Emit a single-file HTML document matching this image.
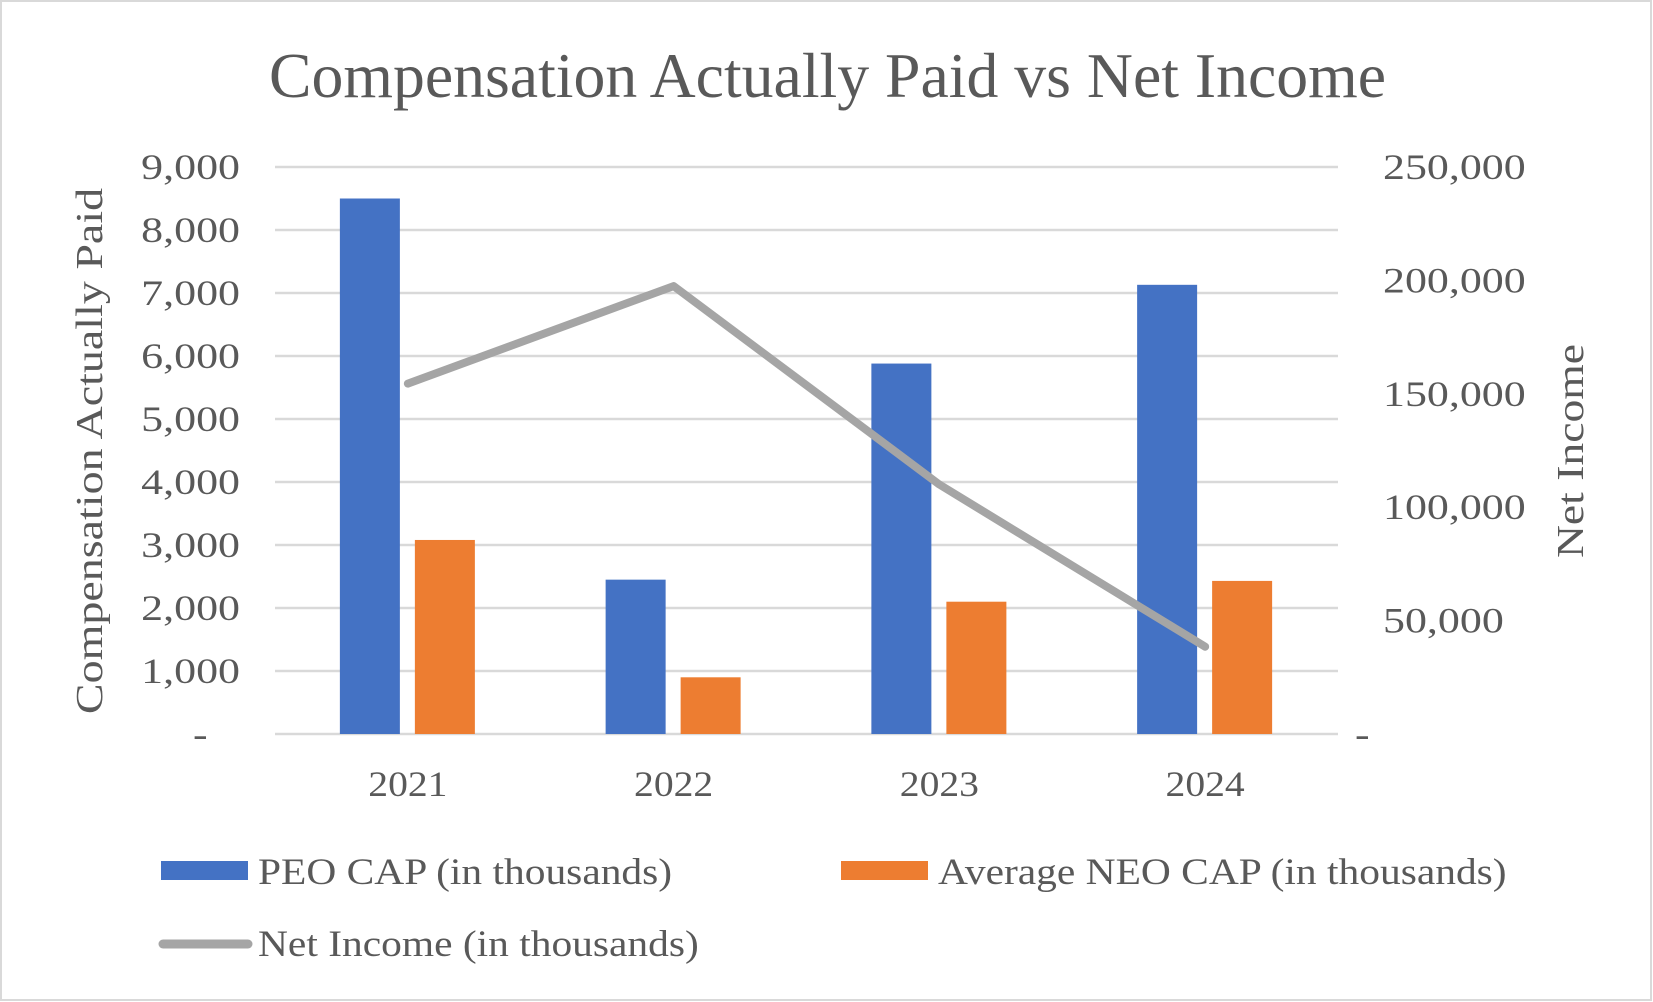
<!DOCTYPE html>
<html><head><meta charset="utf-8">
<style>
html,body{margin:0;padding:0;background:#fff}
svg{display:block}
text{font-family:"Liberation Serif",serif;fill:#595959}
</style></head>
<body>
<svg id="chart" width="1653" height="1002" viewBox="0 0 1653 1002" xmlns="http://www.w3.org/2000/svg">
<rect x="1" y="1" width="1650" height="999" fill="#fff" stroke="#d9d9d9" stroke-width="2"/>
<text x="269" y="97" font-size="63" textLength="1117" lengthAdjust="spacingAndGlyphs">Compensation Actually Paid vs Net Income</text>
<g id="grid"></g>
<g id="bars"></g>
<g id="line"></g>
<g id="ticks"></g>
<text class="st" data-f="1.21" transform="translate(102,451) rotate(-90)" font-size="38" text-anchor="middle">Compensation Actually Paid</text>
<text class="st" data-f="1.2" transform="translate(1583,451) rotate(-90)" font-size="38" text-anchor="middle">Net Income</text>
<g>
<rect x="161" y="861" width="87" height="19" fill="#4472c4"/>
<text class="st" data-f="1.12" x="258" y="884" font-size="37">PEO CAP (in thousands)</text>
<rect x="841" y="861" width="87" height="19" fill="#ed7d31"/>
<text class="st" data-f="1.12" x="938" y="884" font-size="37">Average NEO CAP (in thousands)</text>
<line x1="163" y1="944" x2="248" y2="944" stroke="#a5a5a5" stroke-width="9" stroke-linecap="round"/>
<text class="st" data-f="1.12" x="258" y="956" font-size="37">Net Income (in thousands)</text>
</g>
</svg>
<script>
const categories = ["2021","2022","2023","2024"];
const peoCap = [8500, 2450, 5880, 7130];
const neoCap = [3080, 900, 2100, 2430];
const netIncome = [154500, 197500, 110000, 38500];
const leftTicks = [0,1000,2000,3000,4000,5000,6000,7000,8000,9000];
const leftTickLabels = ["-","1,000","2,000","3,000","4,000","5,000","6,000","7,000","8,000","9,000"];
const rightTicks = [0,50000,100000,150000,200000,250000];
const rightTickLabels = ["-","50,000","100,000","150,000","200,000","250,000"];

const NS="http://www.w3.org/2000/svg";
const X0=275, X1=1338, Y0=734, YT=167;
const yL=v=>Y0-(v/9000)*(Y0-YT);
const yR=v=>Y0-(v/250000)*(Y0-YT);
const bw=(X1-X0)/categories.length;
const xc=i=>X0+bw*(i+0.5);
function mk(tag,attrs,parent){const e=document.createElementNS(NS,tag);for(const k in attrs)e.setAttribute(k,attrs[k]);document.getElementById(parent).appendChild(e);return e;}

leftTicks.forEach((t,i)=>{
  const g=mk('line',{x1:X0,x2:X1,y1:yL(t),y2:yL(t),stroke:'#d9d9d9','stroke-width':2.5},'grid');
  
  
  const tx=mk('text',{x:240,y:yL(t)+12,'font-size':36,'text-anchor':'end','class':'st','data-f':'1.22'},'ticks');
  tx.textContent=leftTickLabels[i];
  if(t===0){tx.setAttribute('text-anchor','start');tx.setAttribute('x',193);}
  
  
});
rightTicks.forEach((t,i)=>{
  const tx=mk('text',{x:1383,y:yR(t)+12,'font-size':36,'class':'st','data-f':'1.22'},'ticks');
  tx.textContent=rightTickLabels[i];
  if(t===0){tx.setAttribute('x',1355);}
  
  
});
categories.forEach((c,i)=>{
  const b1=mk('rect',{x:xc(i)-68,y:yL(peoCap[i]),width:60,height:Y0-yL(peoCap[i]),fill:'#4472c4'},'bars');
  
  
  const b2=mk('rect',{x:xc(i)+7,y:yL(neoCap[i]),width:60,height:Y0-yL(neoCap[i]),fill:'#ed7d31'},'bars');
  
  
  const tx=mk('text',{x:xc(i),y:796,'font-size':36,'text-anchor':'middle','class':'st','data-f':'1.1'},'ticks');
  tx.textContent=c;
  
  
});
const pts=netIncome.map((v,i)=>xc(i)+','+yR(v)).join(' ');
const pl=mk('polyline',{points:pts,fill:'none',stroke:'#a5a5a5','stroke-width':8,'stroke-linecap':'round','stroke-linejoin':'round'},'line');



document.querySelectorAll('text.st').forEach(t=>{
  const f=parseFloat(t.getAttribute('data-f'));
  const w=t.getComputedTextLength();
  t.setAttribute('textLength',(w*f).toFixed(1));
  t.setAttribute('lengthAdjust','spacingAndGlyphs');
});
</script>
</body></html>
